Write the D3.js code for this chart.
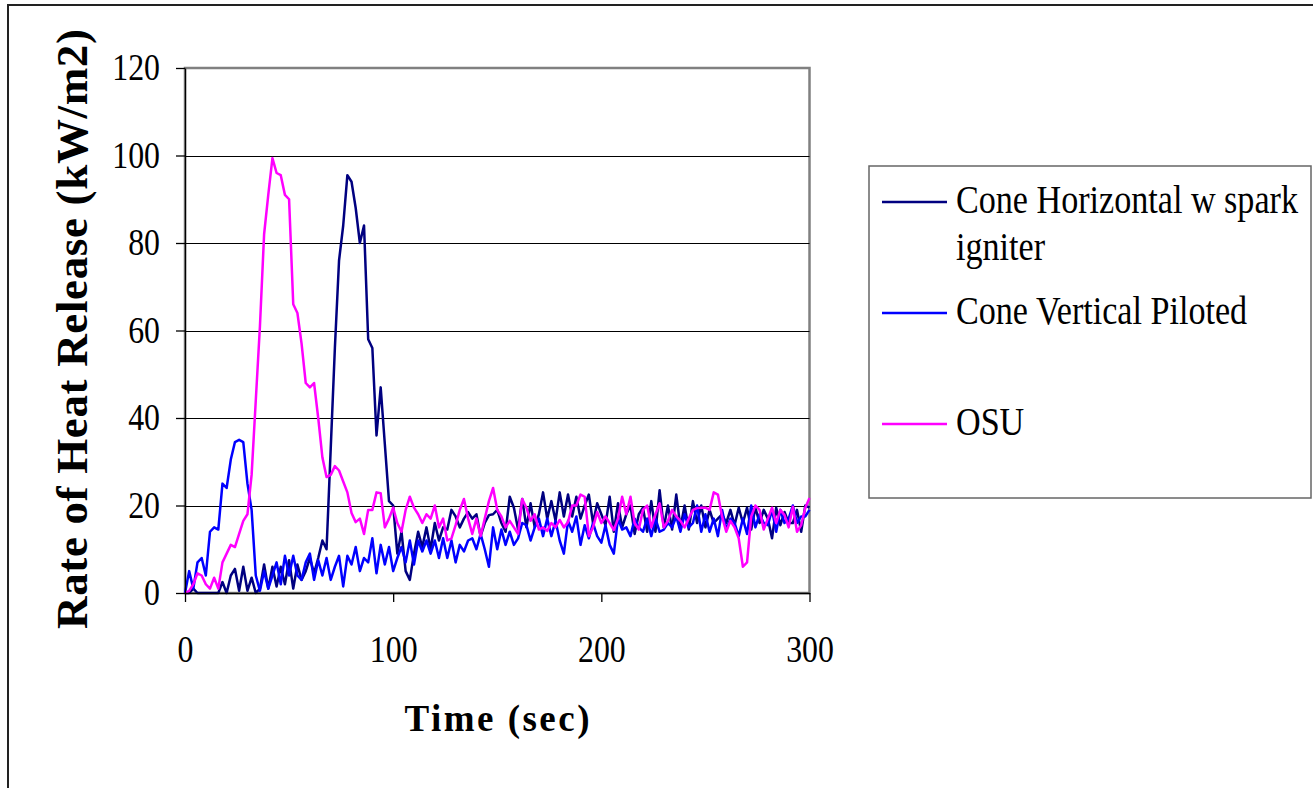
<!DOCTYPE html>
<html>
<head>
<meta charset="utf-8">
<script src="https://cdn.jsdelivr.net/npm/d3@7"></script>
<style>
  body { margin: 0; background: #fff; }
  svg { display: block; }
</style>
</head>
<body>
<svg id="chart" width="1313" height="788"></svg>
<script>
// Sample times (s)
const timeSec = [
  0, 2, 4, 6, 8, 10, 12, 14, 16, 18,
  20, 22, 24, 26, 28, 30, 32, 34, 36, 38,
  40, 42, 44, 46, 48, 50, 52, 54, 56, 58,
  60, 62, 64, 66, 68, 70, 72, 74, 76, 78,
  80, 82, 84, 86, 88, 90, 92, 94, 96, 98,
  100, 102, 104, 106, 108, 110, 112, 114, 116, 118,
  120, 122, 124, 126, 128, 130, 132, 134, 136, 138,
  140, 142, 144, 146, 148, 150, 152, 154, 156, 158,
  160, 162, 164, 166, 168, 170, 172, 174, 176, 178,
  180, 182, 184, 186, 188, 190, 192, 194, 196, 198,
  200, 202, 204, 206, 208, 210, 212, 214, 216, 218,
  220, 222, 224, 226, 228, 230, 232, 234, 236, 238,
  240, 242, 244, 246, 248, 250, 252, 254, 256, 258,
  260, 262, 264, 266, 268, 270, 272, 274, 276, 278,
  280, 282, 284, 286, 288, 290, 292, 294, 296, 298,
  300
];

// Rate of heat release (kW/m2) for each test
const coneHorizontal = [
  0, 0, 1, 0, 0, 0, 0, 0, 0, 2.5,
  0, 4, 5.5, 0.5, 6, 0.5, 3.5, 0, 1, 6.5,
  1, 6, 1.5, 6, 2, 7.5, 1, 6.5, 3, 5,
  8, 4.5, 8, 12, 10, 33, 56, 76, 84, 95.5,
  94, 88, 80, 84, 58, 56, 36, 47, 34, 21,
  20, 9, 14, 5, 3, 9, 14, 10.5, 15, 10,
  16, 12, 15, 14.5, 19, 17.5, 15, 17, 18.5, 17,
  18, 13, 16, 17.8, 18, 19, 16, 14, 22, 19.5,
  14.5, 21.5, 15, 20.5, 15, 18, 23, 17, 21, 16.5,
  23, 17.5, 22.5, 17.5, 22, 17, 20, 22.5, 16, 20.5,
  18, 15.5, 22, 14, 20.5, 15, 18, 20, 13.5, 18,
  19.5, 14, 21, 14, 23.5, 15, 20, 14.5, 22.5, 15,
  20, 14.5, 21, 16, 20, 15, 19, 16, 17, 18,
  16, 19, 15.5, 19.5, 16, 19.5, 14.5, 19.5, 16, 19,
  17, 12.5, 19.5, 15.5, 18.5, 16, 16, 19, 14, 20,
  19.5
];

const coneVertical = [
  0, 5, 1, 7, 8, 4, 14, 15, 14.5, 25,
  24, 30.5, 34.5, 35, 34.5, 25, 19, 4, 0.5, 5,
  1, 4, 7, 2, 8.5, 4, 8.5, 4, 3, 7,
  9, 3, 7.5, 4, 8, 3, 6, 8.5, 1.5, 8.5,
  6.5, 10.5, 5, 8, 7, 12.5, 4.5, 11, 6.5, 10.5,
  5, 8, 10.5, 7, 12, 6.5, 12, 9.5, 12, 9,
  12, 8, 12.5, 8, 12, 7, 11, 9.5, 12, 12.5,
  10, 13.5, 10, 6, 15, 10, 14.5, 11, 14, 11,
  12.5, 16, 15.5, 12, 15, 17, 13, 17, 13, 16.5,
  12, 9, 16.5, 14, 17.5, 11, 15.5, 12.5, 16, 13,
  11.5, 15.5, 11, 9, 17, 14.5, 15, 13, 17, 15,
  14, 17, 13, 17, 14, 14.5, 16, 15, 17.5, 14,
  18, 15, 16, 20, 14, 18, 14, 17, 13, 19,
  14.5, 17, 16, 13, 17, 13.5, 20, 15, 18, 16,
  15.5, 19, 14, 19, 16, 17, 20, 16, 17.5, 17.5,
  19
];

const osu = [
  0, 0.5, 2, 4.5, 4, 2, 1, 3.5, 1, 7,
  9, 11, 10.5, 13.5, 16.5, 18, 27, 44, 61, 82,
  91, 99.4, 96, 95.5, 91, 90, 66, 64, 57, 48,
  47, 48, 40, 31, 26.5, 27, 29, 28, 25.5, 23,
  18.3, 16.2, 17, 13.5, 19, 19, 23, 22.8, 15, 17,
  19.5, 16, 14, 19, 22, 19.5, 18, 16, 18, 17,
  20, 15, 17, 12, 12.5, 15.5, 19, 21.5, 17, 13.5,
  17, 13, 17, 21, 24, 19, 17.5, 15, 16.5, 15,
  13.5, 21.5, 19.5, 16.5, 18, 14.5, 15, 14.2, 16, 15,
  16.7, 15, 16.2, 20, 20, 22.5, 22, 13, 15, 18.5,
  16, 17.5, 16, 14.4, 17, 22, 18, 22, 16, 14.5,
  19, 20, 15, 18, 20.5, 15, 16.5, 19, 17.5, 16.5,
  15, 17, 19, 19.4, 19.5, 19.5, 19, 23, 22.5, 17.5,
  14, 16.5, 15, 12.5, 6, 7, 17.5, 20, 19, 14.5,
  17, 19.5, 16, 19, 17.8, 15, 19.7, 14, 15.5, 19.5,
  21.7
];

const seriesValues = [coneHorizontal, coneVertical, osu];
const seriesColors = ["#000080", "#0000FF", "#FF00FF"];
const legendLabels = [["Cone Horizontal w spark", "igniter"], ["Cone Vertical Piloted"], ["OSU"]];
const yTicks = [0, 20, 40, 60, 80, 100, 120];
const xTicks = [0, 100, 200, 300];
const xTitle = "Time (sec)";
const yTitle = "Rate of Heat Release (kW/m2)";

const FONT = "'Liberation Serif', 'Times New Roman', serif";
const svg = d3.select("#chart");

// Narrow the glyphs of a text element horizontally
function squeeze(sel, sx) {
  sel.each(function () {
    const w = this.getComputedTextLength();
    d3.select(this).attr("textLength", w * sx).attr("lengthAdjust", "spacingAndGlyphs");
  });
}

// Outer chart frame
svg.append("rect")
  .attr("x", 8).attr("y", 5).attr("width", 1320).attr("height", 800)
  .attr("fill", "none").attr("stroke", "#222").attr("stroke-width", 2);

const plot = { left: 185, right: 809.5, top: 68, bottom: 593 };

const x = d3.scaleLinear().domain([0, 300]).range([plot.left, plot.right]);
const y = d3.scaleLinear().domain([0, 120]).range([plot.bottom, plot.top]);

// Plot area border
svg.append("rect")
  .attr("x", plot.left).attr("y", plot.top)
  .attr("width", plot.right - plot.left).attr("height", plot.bottom - plot.top)
  .attr("fill", "none").attr("stroke", "#808080").attr("stroke-width", 2.5);

// Horizontal gridlines
svg.append("g").selectAll("line")
  .data(yTicks.filter(v => v > 0 && v < 120))
  .join("line")
  .attr("x1", plot.left).attr("x2", plot.right)
  .attr("y1", d => Math.round(y(d)) + 0.5).attr("y2", d => Math.round(y(d)) + 0.5)
  .attr("stroke", "#000").attr("stroke-width", 1);

// Series lines
const line = d3.line()
  .x((d, i) => x(timeSec[i]))
  .y(d => y(d));

svg.append("g").selectAll("path")
  .data(seriesValues)
  .join("path")
  .attr("d", d => line(d))
  .attr("fill", "none")
  .attr("stroke", (d, i) => seriesColors[i])
  .attr("stroke-width", 2.5)
  .attr("stroke-linejoin", "round");

// Axes
const yAxis = svg.append("g")
  .attr("transform", `translate(${plot.left},0)`)
  .call(d3.axisLeft(y).tickValues(yTicks).tickSize(9).tickSizeOuter(0).tickPadding(16));
const xAxis = svg.append("g")
  .attr("transform", `translate(0,${plot.bottom})`)
  .call(d3.axisBottom(x).tickValues(xTicks).tickSize(9).tickSizeOuter(0).tickPadding(34));

[yAxis, xAxis].forEach(ax => {
  ax.select(".domain").attr("stroke", "#000").attr("stroke-width", 1.3);
  ax.selectAll(".tick line").attr("stroke", "#000").attr("stroke-width", 1.3);
  ax.selectAll("text")
    .attr("font-family", FONT).attr("font-size", 37).attr("fill", "#000")
    .call(squeeze, 0.86);
});

// Axis titles
svg.append("text")
  .attr("x", 497).attr("y", 731)
  .attr("text-anchor", "middle")
  .attr("font-family", FONT).attr("font-size", 37).attr("font-weight", "bold")
  .attr("textLength", 185).attr("lengthAdjust", "spacing")
  .text(xTitle);

svg.append("text")
  .attr("transform", "translate(87,329) rotate(-90)")
  .attr("text-anchor", "middle")
  .attr("font-family", FONT).attr("font-size", 45).attr("font-weight", "bold")
  .attr("textLength", 600).attr("lengthAdjust", "spacing")
  .text(yTitle);

// Legend
const legend = svg.append("g");
legend.append("rect")
  .attr("x", 869).attr("y", 166).attr("width", 442).attr("height", 332)
  .attr("fill", "#fff").attr("stroke", "#666").attr("stroke-width", 1.5);

const legendRowY = [202, 313, 424];
legendLabels.forEach((lines, i) => {
  legend.append("line")
    .attr("x1", 882).attr("x2", 947)
    .attr("y1", legendRowY[i]).attr("y2", legendRowY[i])
    .attr("stroke", seriesColors[i]).attr("stroke-width", 2.6);
  lines.forEach((txt, j) => {
    // Condensed label: scaled horizontally about its own start point
    legend.append("text")
      .attr("transform", `translate(956,${legendRowY[i] + 11 + j * 47}) scale(0.875,1)`)
      .attr("font-family", FONT).attr("font-size", 39).attr("fill", "#000")
      .text(txt);
  });
});
</script>
</body>
</html>
